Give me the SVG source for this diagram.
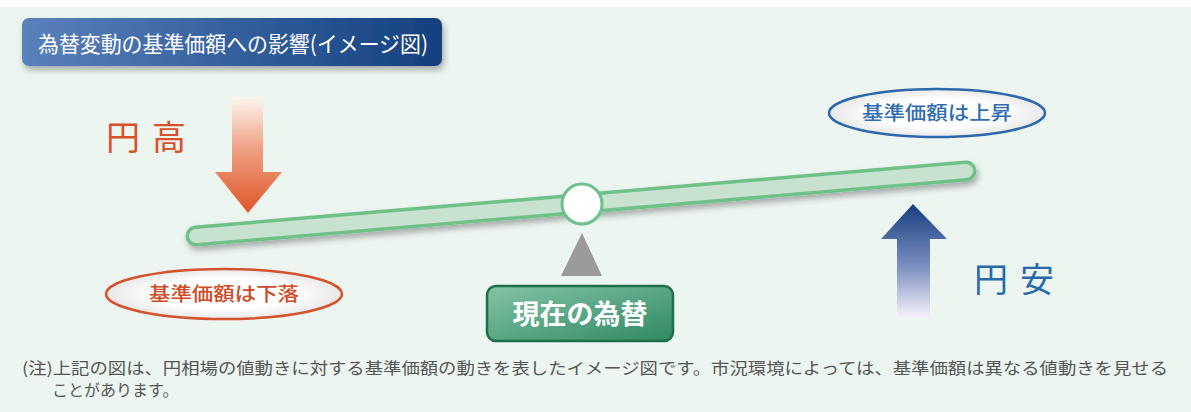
<svg xmlns="http://www.w3.org/2000/svg" width="1191" height="412" viewBox="0 0 1191 412">
<style>
text{font-family:"Noto Sans CJK JP","Noto Sans CJK SC",sans-serif}
.big{font-size:34px;letter-spacing:12px;font-weight:400}
.ell{font-size:19px;font-weight:500}
.note{font-size:16px;fill:#555}
</style>
<defs>
<linearGradient id="gTitle" x1="0" y1="0" x2="1" y2="0">
<stop offset="0" stop-color="#5b81bb"/><stop offset="0.6" stop-color="#2d5a98"/><stop offset="1" stop-color="#163f7f"/>
</linearGradient>
<linearGradient id="gDown" x1="0" y1="0" x2="0" y2="1">
<stop offset="0" stop-color="#fff6f0"/><stop offset="0.45" stop-color="#eea083"/><stop offset="1" stop-color="#df5527"/>
</linearGradient>
<linearGradient id="gUp" x1="0" y1="0" x2="0" y2="1">
<stop offset="0" stop-color="#163f80"/><stop offset="0.55" stop-color="#7d8fc0"/><stop offset="1" stop-color="#f7f2fa"/>
</linearGradient>
<linearGradient id="gNow" x1="0" y1="0" x2="1" y2="1">
<stop offset="0" stop-color="#85c3a6"/><stop offset="1" stop-color="#2f8a63"/>
</linearGradient>
<radialGradient id="gEll" cx="0.5" cy="0.5" r="0.6">
<stop offset="0.5" stop-color="#ffffff"/><stop offset="1" stop-color="#dcdcdc"/>
</radialGradient>
<filter id="sh" x="-10%" y="-30%" width="120%" height="180%">
<feDropShadow dx="2" dy="4" stdDeviation="3" flood-color="#000" flood-opacity="0.3"/>
</filter>
</defs>
<rect x="0" y="0" width="1191" height="412" fill="#ffffff"/>
<rect x="0" y="7" width="1191" height="405" fill="#ecf5f0"/>

<g id="title">
<rect x="22" y="18" width="420" height="48" rx="7" fill="url(#gTitle)" filter="url(#sh)"/>
<text x="38" y="52" font-size="22" fill="#ffffff" textLength="390" lengthAdjust="spacingAndGlyphs">為替変動の基準価額への影響(イメージ図)</text>
</g>

<g id="connectors">
<g id="beam">
<line x1="196" y1="236" x2="966" y2="171" stroke="#6fc08c" stroke-width="21" stroke-linecap="round" filter="url(#sh)"/>
<line x1="196" y1="236" x2="966" y2="171" stroke="#c7e2cf" stroke-width="14" stroke-linecap="round"/>
</g>
<polygon points="582,233 602,276 561,276" fill="#9a9a9a"/>
<circle cx="582" cy="204" r="20" fill="#ffffff" stroke="#6fc08c" stroke-width="3"/>
<polygon id="arrowDown" points="232,97 263,97 263,172 282,172 248,213 215,172 232,172" fill="url(#gDown)"/>
<polygon id="arrowUp" points="913,204 947,239 930,239 930,318 897,318 897,239 881,239" fill="url(#gUp)"/>
</g>

<g id="yendaka">
<text x="106" y="150" class="big" fill="#d9502a">円高</text>
</g>
<g id="yenyasu">
<text x="974" y="292" class="big" fill="#2a6aab">円安</text>
</g>

<g id="down">
<ellipse cx="224" cy="294" rx="118" ry="25" fill="url(#gEll)" stroke="#d4532c" stroke-width="2.5"/>
<text x="224" y="301" class="ell" fill="#d04a26" text-anchor="middle" textLength="150" lengthAdjust="spacingAndGlyphs">基準価額は下落</text>
</g>
<g id="up">
<ellipse cx="937" cy="113" rx="108" ry="24" fill="url(#gEll)" stroke="#2d68ad" stroke-width="2.5"/>
<text x="937" y="120" class="ell" fill="#2f6cb2" text-anchor="middle" textLength="150" lengthAdjust="spacingAndGlyphs">基準価額は上昇</text>
</g>

<g id="now">
<rect x="487" y="286" width="186" height="55" rx="9" fill="url(#gNow)" stroke="#1f6e4a" stroke-width="2.5"/>
<text x="580" y="324" font-size="27" font-weight="bold" fill="#ffffff" text-anchor="middle">現在の為替</text>
</g>

<g id="note">
<text x="22" y="374" class="note" textLength="1146" lengthAdjust="spacingAndGlyphs">(注)上記の図は、円相場の値動きに対する基準価額の動きを表したイメージ図です。市況環境によっては、基準価額は異なる値動きを見せる</text>
<text x="52" y="396" class="note">ことがあります。</text>
</g>
</svg>
